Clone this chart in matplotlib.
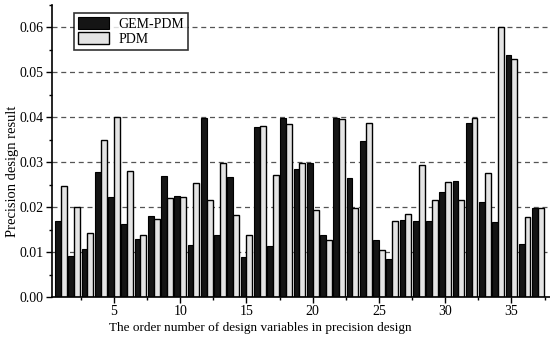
#!/usr/bin/env python3

import numpy as np
import matplotlib.pyplot as plt
from matplotlib.ticker import MultipleLocator, FormatStrFormatter

# Design variable order numbers
variables = np.arange(1, 38)

# Precision design results
gem_pdm = [0.0169, 0.0091, 0.0107, 0.0279, 0.0223, 0.0163, 0.0129, 0.0180,
           0.0270, 0.0224, 0.0115, 0.0398, 0.0138, 0.0267, 0.0089, 0.0379,
           0.0113, 0.0398, 0.0284, 0.0298, 0.0139, 0.0398, 0.0265, 0.0347,
           0.0127, 0.0084, 0.0171, 0.0169, 0.0170, 0.0233, 0.0259, 0.0387,
           0.0211, 0.0166, 0.0539, 0.0117, 0.0199]
pdm = [0.0248, 0.0201, 0.0142, 0.0350, 0.0400, 0.0280, 0.0139, 0.0174,
       0.0221, 0.0222, 0.0253, 0.0216, 0.0299, 0.0182, 0.0137, 0.0380,
       0.0271, 0.0384, 0.0299, 0.0193, 0.0126, 0.0397, 0.0199, 0.0387,
       0.0104, 0.0168, 0.0185, 0.0293, 0.0215, 0.0255, 0.0216, 0.0399,
       0.0275, 0.0600, 0.0530, 0.0178, 0.0199]

plt.rcParams['font.family'] = ['Liberation Serif', 'DejaVu Serif']

fig = plt.figure(figsize=(5.5, 3.49), dpi=100)
ax = fig.add_axes([0.0945, 0.149, 0.91, 0.837])

# Dashed grid behind the bars
ax.set_axisbelow(True)
ax.yaxis.grid(True, linestyle=(0, (4, 3)), color='#555555', linewidth=0.9)

width = 0.44
ax.bar(variables - width / 2, gem_pdm, width, color='#151515',
       edgecolor='black', linewidth=0.8, label='GEM-PDM')
ax.bar(variables + width / 2, pdm, width, color='#e4e4e4',
       edgecolor='black', linewidth=1.0, label='PDM')

ax.set_xlim(0.32, 38.1)
ax.set_ylim(0, 0.065)

ax.xaxis.set_minor_locator(MultipleLocator(2.5))
ax.yaxis.set_major_locator(MultipleLocator(0.01))
ax.yaxis.set_minor_locator(MultipleLocator(0.005))
ax.yaxis.set_major_formatter(FormatStrFormatter('%.2f'))
ax.set_xticks([5, 10, 15, 20, 25, 30, 35])

ax.tick_params(which='major', direction='out', length=4, width=1,
               labelsize=10, colors='black', pad=2)
ax.tick_params(which='minor', direction='out', length=2.5, width=1)

for side in ['top', 'right']:
    ax.spines[side].set_visible(False)
for side in ['left', 'bottom']:
    ax.spines[side].set_linewidth(1.2)

ax.set_xlabel('The order number of design variables in precision design',
              fontsize=9.5)
ax.xaxis.set_label_coords(0.416, -0.085)
ax.set_ylabel('Precision design result', fontsize=10.5)
ax.yaxis.set_label_coords(-0.066, 0.43)

leg = ax.legend(loc='upper left', bbox_to_anchor=(0.03, 0.995), fontsize=10,
                frameon=True, fancybox=False, edgecolor='black',
                handlelength=2.2, handleheight=0.9, borderpad=0.3,
                labelspacing=0.1, handletextpad=0.7)
leg.get_frame().set_linewidth(1.2)

fig.savefig('out.png', dpi=100)
